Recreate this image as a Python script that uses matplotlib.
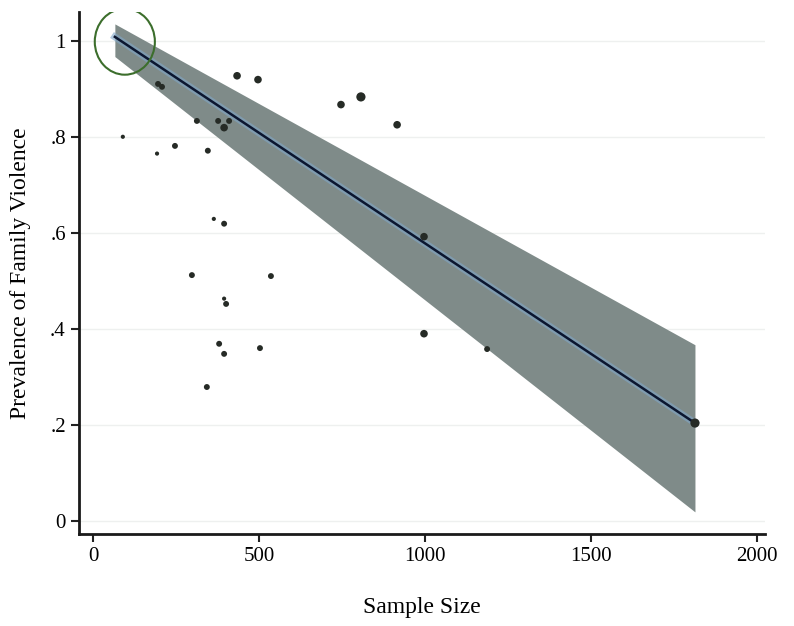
import matplotlib.pyplot as plt
from matplotlib.patches import Ellipse
import numpy as np

# Study-level data
sample_size = [90, 193, 196, 208, 247, 313, 346, 377, 410, 395, 434, 497, 747, 807, 916,
               364, 395, 298, 536, 395, 401, 380, 395, 503, 343, 997, 997, 1187, 1813]
prevalence = [0.800, 0.765, 0.910, 0.904, 0.781, 0.833, 0.771, 0.833, 0.833, 0.819, 0.927,
              0.919, 0.867, 0.883, 0.825, 0.629, 0.619, 0.512, 0.510, 0.463, 0.452, 0.369,
              0.348, 0.360, 0.279, 0.592, 0.390, 0.358, 0.204]
weight = [1, 1, 2, 2, 2, 2, 2, 2, 2, 3, 3, 3, 3, 4, 3,
          1, 2, 2, 2, 1, 2, 2, 2, 2, 2, 3, 3, 2, 4]

# Fitted line and 95% CI at the ends of the observed range
fit_x = [66, 1813]
fit_y = [1.008, 0.204]
ci_low = [0.967, 0.019]
ci_high = [1.035, 0.367]

x_ticks = [0, 500, 1000, 1500, 2000]
y_ticks = [0, 0.2, 0.4, 0.6, 0.8, 1.0]
y_tick_labels = ['0', '.2', '.4', '.6', '.8', '1']

plt.rcParams['font.family'] = ['Liberation Serif', 'DejaVu Serif']

fig = plt.figure(figsize=(7.94, 6.26), dpi=100)
ax = fig.add_axes([0.0995, 0.147, 0.864, 0.834])

# Confidence band and fitted line
ax.fill_between(fit_x, ci_low, ci_high, color='#7f8b89', linewidth=0, zorder=2)
ax.plot(fit_x, fit_y, color='#7fa6c8', linewidth=5, alpha=0.6, zorder=3)
ax.plot(fit_x, fit_y, color='#0b1630', linewidth=1.8, zorder=4)

# Study points, size by weight
sizes = [4 + 5 * w ** 1.5 for w in weight]
ax.scatter(sample_size, prevalence, s=sizes, color='#262b26', edgecolors='none', zorder=5)

# Highlight circle around the top-left end
ax.add_patch(Ellipse((96, 0.998), 181, 0.1375, fill=False, edgecolor='#3c6e2c',
                     linewidth=1.5, zorder=6))

ax.set_xlim(-42, 2024)
ax.set_ylim(-0.027, 1.06)
ax.set_xticks(x_ticks)
ax.set_yticks(y_ticks)
ax.set_yticklabels(y_tick_labels)
ax.tick_params(labelsize=15, width=1.5, length=6, color='#222222')

for y in y_ticks:
    ax.axhline(y, color='#eef0ef', linewidth=1, zorder=1)

for side in ['top', 'right']:
    ax.spines[side].set_visible(False)
for side in ['left', 'bottom']:
    ax.spines[side].set_linewidth(2)
    ax.spines[side].set_color('#1a1a1a')

ax.set_xlabel('Sample Size', fontsize=17, labelpad=22)
ax.set_ylabel('Prevalence of Family Violence', fontsize=17, labelpad=14)

fig.savefig('out.png', dpi=100)
